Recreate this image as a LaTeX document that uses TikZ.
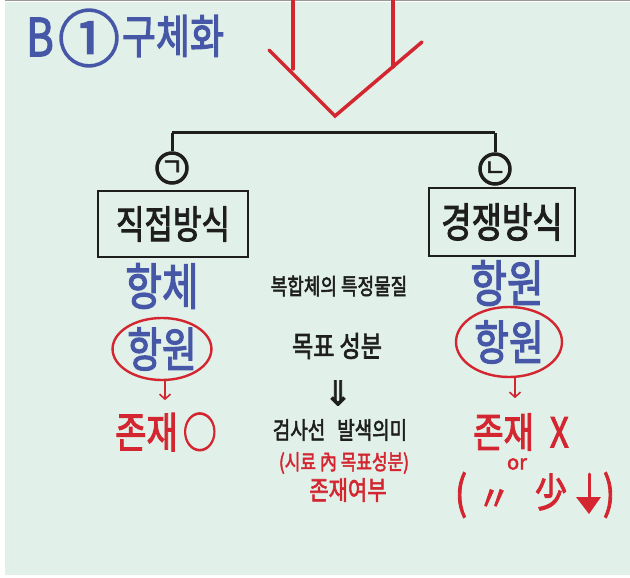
\documentclass[tikz,border=0pt]{standalone}
\usepackage{fontspec}
\usetikzlibrary{shapes.geometric,arrows.meta}
\newfontfamily\kr[FakeBold=2.5]{Noto Sans CJK KR}
\newfontfamily\dv[FakeBold=2]{DejaVu Sans}
\definecolor{bgc}{HTML}{E1F0E8}
\definecolor{pblue}{HTML}{4657A8}
\definecolor{pred}{HTML}{D42630}
\definecolor{pblack}{HTML}{1E1E1E}
\newcommand{\hw}[1]{\scalebox{1}[1.25]{#1}}
\newcommand{\fs}[1]{\fontsize{#1}{#1}\selectfont}
\tikzset{
  txt/.style={inner sep=0pt, font=\kr},
  bluetxt/.style={txt, text=pblue},
  redtxt/.style={txt, text=pred},
  blacktxt/.style={txt, text=pblack},
  boxnode/.style={draw=pblack, line width=1.5pt, inner sep=0pt, text=pblack, font=\kr},
  circnode/.style={circle, draw=pblack, line width=3.5pt, minimum size=30pt, inner sep=0pt, font=\kr\fs{24}, text=pblack},
  ovalnode/.style={ellipse, draw=pred, line width=2.4pt, inner sep=0pt, text=pblue, font=\kr},
  treeline/.style={draw=pblack, line width=3pt},
  bigarrow/.style={draw=pred, line width=3.5pt, line cap=round, line join=miter},
  smallarr/.style={draw=pred, line width=1.6pt, -{Straight Barb[length=5pt,width=11pt,line width=1.6pt]}},
}
\begin{document}
\begin{tikzpicture}[x=1pt,y=-1pt]
\useasboundingbox (0,0) rectangle (630,578);
\fill[white] (0,0) rectangle (630,578);
\fill[bgc] (5,2) rectangle (630,575);
\draw[color=gray!80, line width=1.5pt] (5,0.75) -- (630,0.75);

% title
\node[bluetxt, font=\kr\fs{42}] (tB) at (40,37) {\hw{B}};
\node[bluetxt, font=\kr\fs{62}] (tC) at (89,38) {①};
\node[bluetxt, font=\kr\fs{37}] (tT) at (173,36) {\hw{구체화}};

% big red arrow
\draw[bigarrow] (293,0) -- (293,69);
\draw[bigarrow] (393,0) -- (393,67);
\draw[bigarrow] (269,50) -- (335,116) -- (422,42);

% tree
\coordinate (hl) at (172,133);
\coordinate (hr) at (495,133);
\node[circnode] (c1) at (172,168) {ㄱ};
\node[circnode] (c2) at (495,169) {ㄴ};
\draw[treeline] (hl) -- (hr);
\draw[treeline] (hl) -- (c1.north);
\draw[treeline] (hr) -- (c2.north);

\node[boxnode, minimum width=150pt, minimum height=66pt, font=\kr\fs{31}] (b1) at (173,224) {\hw{직접방식}};
\node[boxnode, minimum width=146pt, minimum height=68pt, font=\kr\fs{33}] (b2) at (502,222) {\hw{경쟁방식}};

% left column
\node[bluetxt, font=\kr\fs{40}] (l1) at (162,286) {\hw{항체}};
\node[ovalnode, minimum width=97pt, minimum height=62pt, font=\kr\fs{38}] (e1) at (162,349) {\hw{항원}};
\node[redtxt, font=\kr\fs{34}] (z1) at (166,432) {\hw{존재\hspace{5pt}○}};
\draw[smallarr] ([xshift=3pt]e1.south) -- ++(0,19);

% right column
\node[bluetxt, font=\kr\fs{40}] (r1) at (507,283) {\hw{항원}};
\node[ovalnode, minimum width=106pt, minimum height=70pt, font=\kr\fs{38}] (e2) at (509,342) {\hw{항원}};
\node[redtxt, font=\kr\fs{33}] (z2) at (521,432) {\hw{존재\hspace{16pt}X}};
\draw[smallarr] ([xshift=6pt]e2.south) -- ++(0,20);
\node[redtxt, font=\kr\fs{20}] (or) at (517,464) {or};
\node[redtxt, font=\kr\fs{36}] (lp) at (461,495) {\hw{(}};
\node[redtxt, font=\kr\fs{34}] (dit) at (494,500) {〃};
\node[redtxt, font=\kr\fs{32}] (few) at (551,492) {\hw{少}};
\node[redtxt, font=\kr\fs{36}] (rp) at (609,495) {\hw{)}};
\draw[draw=pred, line width=3pt, line cap=round] (589,474) -- (589,500);
\fill[pred] (576,497) -- (601,497) -- (589,514) -- cycle;

% middle column
\node[blacktxt, font=\kr\fs{18}] (m1) at (339,286) {\hw{복합체의 특정물질}};
\node[blacktxt, font=\kr\fs{23}] (m2) at (337,346) {\hw{목표 성분}};
\node[blacktxt, font=\dv\fs{34}] (m3) at (338,393) {⇓};
\node[blacktxt, font=\kr\fs{19}] (m4) at (340,430) {\hw{검사선\hspace{12pt}발색의미}};
\node[redtxt, font=\kr\fs{17}] (m5) at (344,463) {\hw{(시료 內 목표성분)}};
\node[redtxt, font=\kr\fs{21}] (m6) at (348,490) {\hw{존재여부}};
\end{tikzpicture}
\end{document}
